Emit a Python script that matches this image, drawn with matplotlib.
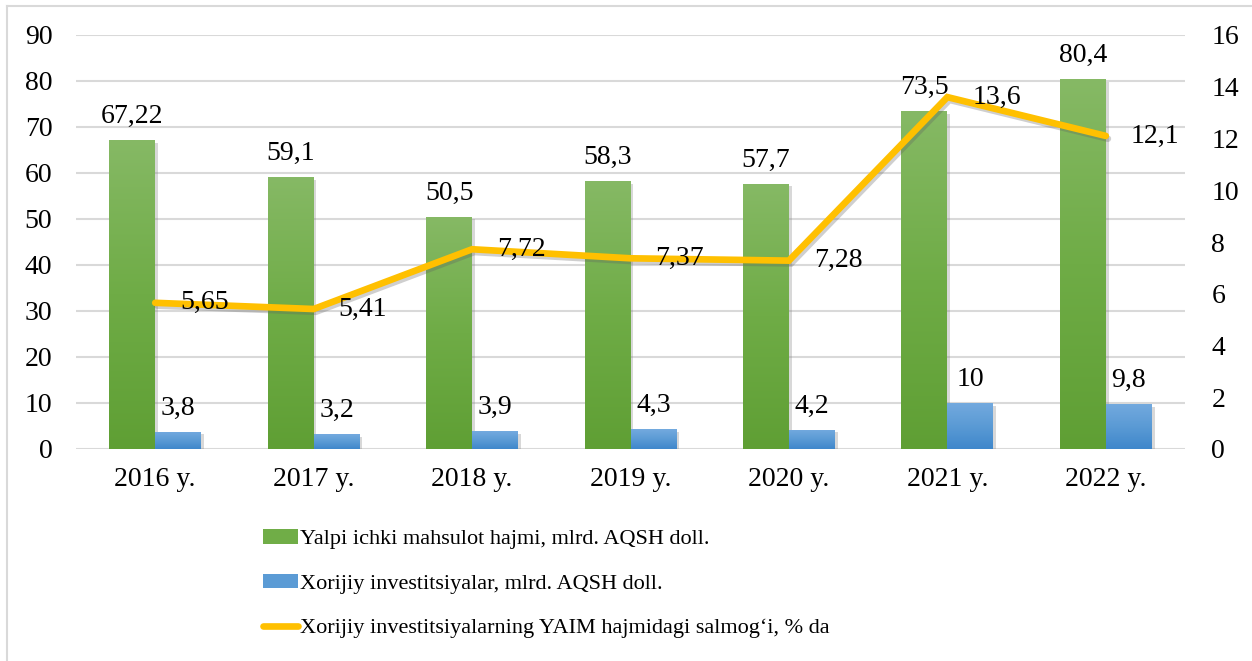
import matplotlib
matplotlib.use("Agg")
import matplotlib.pyplot as plt
import numpy as np
from matplotlib.patches import Patch
from matplotlib.lines import Line2D
import matplotlib.patheffects as pe
from matplotlib.colors import LinearSegmentedColormap

years = ["2016 y.", "2017 y.", "2018 y.", "2019 y.", "2020 y.", "2021 y.", "2022 y."]
gdp = [67.22, 59.1, 50.5, 58.3, 57.7, 73.5, 80.4]
fdi = [3.8, 3.2, 3.9, 4.3, 4.2, 10, 9.8]
share = [5.65, 5.41, 7.72, 7.37, 7.28, 13.6, 12.1]
gdp_labels = ["67,22", "59,1", "50,5", "58,3", "57,7", "73,5", "80,4"]
fdi_labels = ["3,8", "3,2", "3,9", "4,3", "4,2", "10", "9,8"]
share_labels = ["5,65", "5,41", "7,72", "7,37", "7,28", "13,6", "12,1"]
legend_labels = ["Yalpi ichki mahsulot hajmi, mlrd. AQSH doll.",
                 "Xorijiy investitsiyalar, mlrd. AQSH doll.",
                 "Xorijiy investitsiyalarning YAIM hajmidagi salmog\u2018i, % da"]

plt.rcParams['font.family'] = ['Liberation Serif', 'DejaVu Serif']
FS = 20
LFS = 16

fig = plt.figure(figsize=(12.52, 6.61), dpi=100)
ax = fig.add_axes([76/1252, 1-449/661, (1185-76)/1252, (449-35)/661])
ax2 = ax.twinx()

x = np.arange(len(years))
w = 0.29

green_cmap = LinearSegmentedColormap.from_list("g", ["#5f9f34", "#6fac46", "#86b965"])
blue_cmap = LinearSegmentedColormap.from_list("b", ["#3f87cb", "#5b9bd5", "#74aadf"])
grad = np.linspace(0, 1, 256).reshape(-1, 1)

shadow = [pe.SimplePatchShadow(offset=(2, -2), shadow_rgbFace='#808080', alpha=0.3), pe.Normal()]

gbars = ax.bar(x - w/2, gdp, w, color='#70ad47', zorder=2, path_effects=shadow)
bbars = ax.bar(x + w/2, fdi, w, color='#5b9bd5', zorder=2, path_effects=shadow)
for bars, cmap in ((gbars, green_cmap), (bbars, blue_cmap)):
    for b in bars:
        x0, y0 = b.get_x(), b.get_y()
        im = ax.imshow(grad, cmap=cmap, origin='lower', aspect='auto',
                       extent=(x0, x0 + b.get_width(), y0, y0 + b.get_height()),
                       zorder=2.5, interpolation='bilinear')
        im.set_clip_path(b)
ax.set_xlim(-0.5, len(years)-0.5)
ax.set_ylim(0, 90)
ax2.set_ylim(0, 16)

for i in range(len(years)):
    ax.annotate(gdp_labels[i], (x[i] - w/2, gdp[i]), xytext=(0, 8), textcoords='offset points',
                ha='center', va='bottom', fontsize=FS, zorder=5)
    ax.annotate(fdi_labels[i], (x[i] + w/2, fdi[i]), xytext=(0, 8), textcoords='offset points',
                ha='center', va='bottom', fontsize=FS, zorder=5)

line_shadow = [pe.SimpleLineShadow(offset=(1.5, -2), shadow_color='#606060', alpha=0.3), pe.Normal()]
ax2.plot(x, share, color='#ffc000', lw=4.8, solid_capstyle='round', solid_joinstyle='miter',
         zorder=3, path_effects=line_shadow)
for i in range(len(years)):
    ax2.annotate(share_labels[i], (x[i], share[i]), xytext=(18, 0), textcoords='offset points',
                 ha='left', va='center', fontsize=FS, zorder=5)

ax.set_yticks(np.arange(0, 91, 10))
ax2.set_yticks(np.arange(0, 17, 2))
ax.set_xticks(x)
ax.set_xticklabels(years)
ax.grid(axis='y', color='#d9d9d9', lw=1.5, zorder=0)
ax.set_axisbelow(True)
for a in (ax, ax2):
    for s in a.spines.values():
        s.set_visible(False)
    a.tick_params(length=0, labelsize=FS)
ax.tick_params(axis='y', pad=17)
ax2.tick_params(axis='y', pad=19)
ax.tick_params(axis='x', pad=13)

handles = [Patch(facecolor='#70ad47'), Patch(facecolor='#5b9bd5'),
           Line2D([0], [0], color='#ffc000', lw=4.8, solid_capstyle='round')]
fig.legend(handles, legend_labels, loc='upper left', bbox_to_anchor=(263/1252, 1-529/661),
           frameon=False, fontsize=LFS, handlelength=1.58, handleheight=0.63,
           handletextpad=0.1, labelspacing=1.1, borderpad=0, borderaxespad=0)

fig.add_artist(Line2D([7/1252, 1], [1-6/661, 1-6/661], color='#d9d9d9', lw=1.5, transform=fig.transFigure))
fig.add_artist(Line2D([7/1252, 7/1252], [0, 1-6/661], color='#d9d9d9', lw=1.5, transform=fig.transFigure))

fig.savefig("out.png", dpi=100)
